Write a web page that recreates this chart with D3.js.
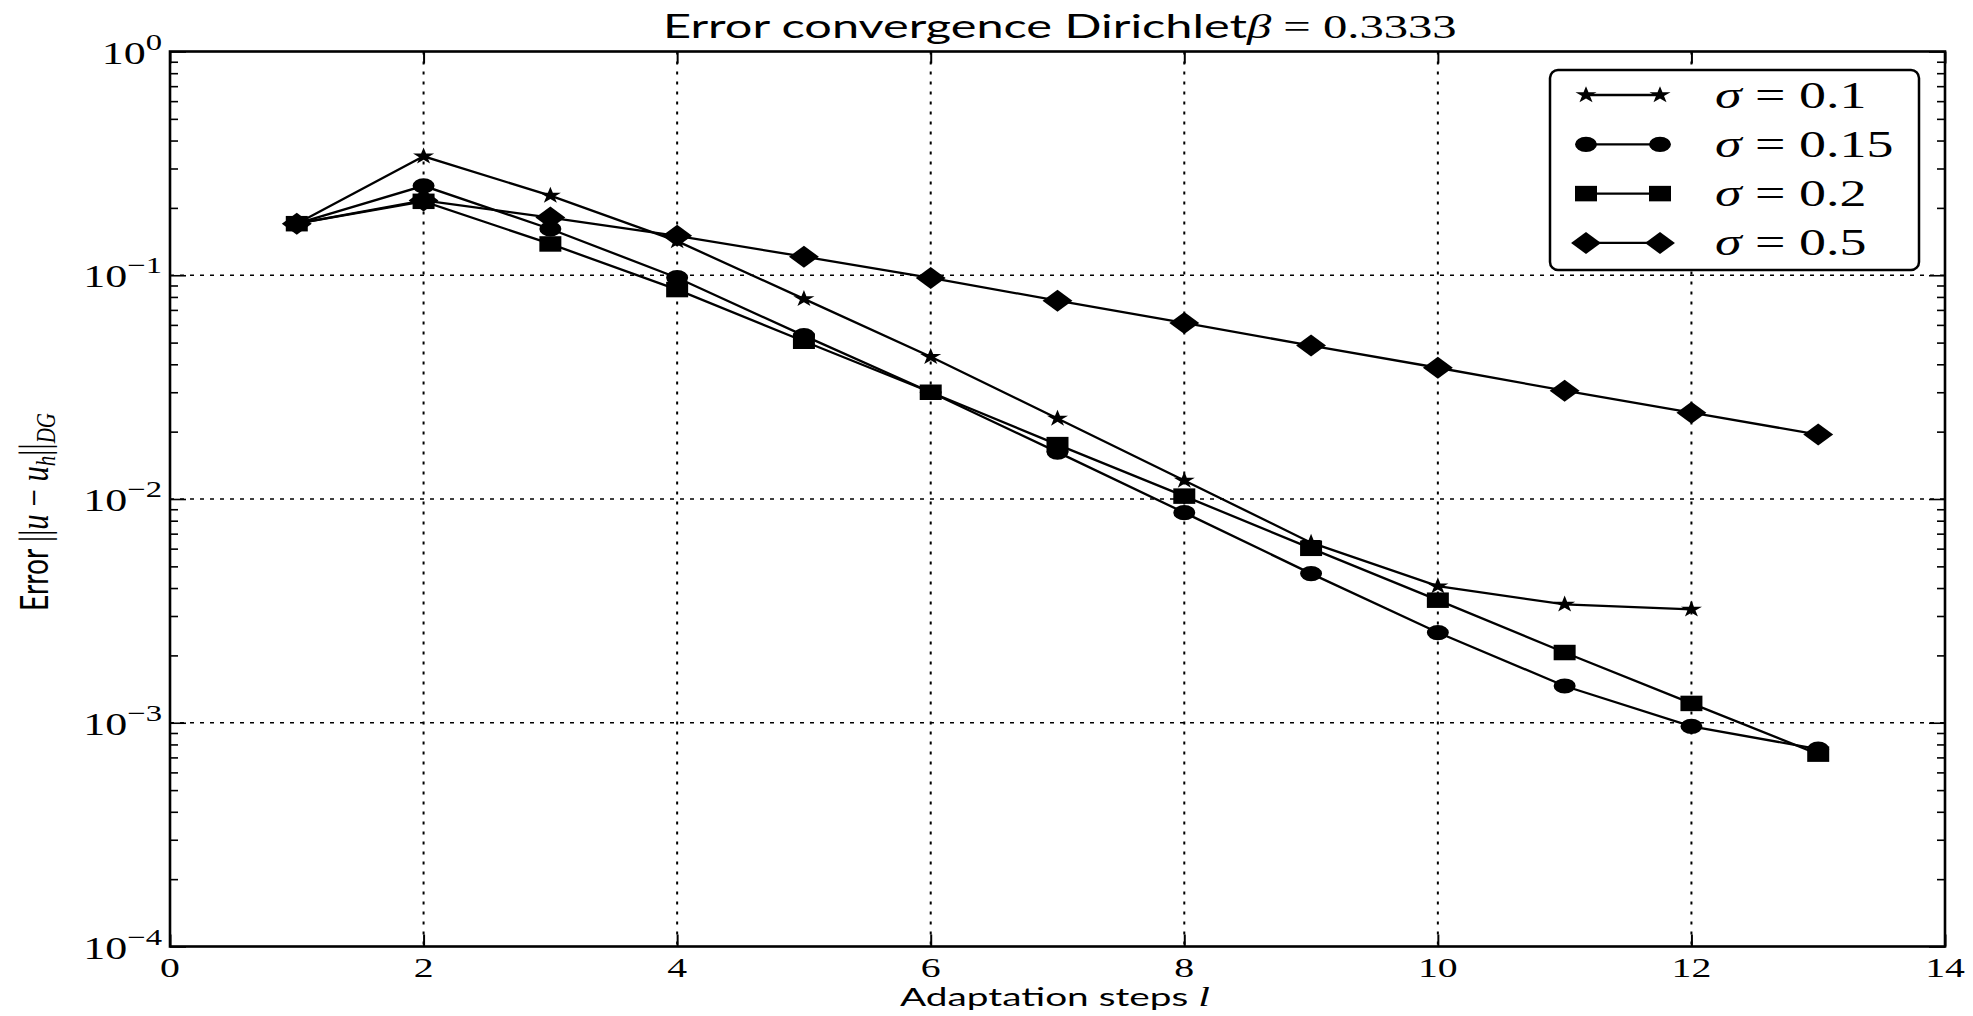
<!DOCTYPE html>
<html><head><meta charset="utf-8">
<script src="https://cdn.jsdelivr.net/npm/d3@7"></script>
<style>body{margin:0;background:#fff}svg{display:block}</style>
</head><body>
<svg id="c" width="1973" height="1016"></svg>
<script>
// ---------------- data ----------------
const steps = [1,2,3,4,5,6,7,8,9,10,11,12,13];
const sigma01  = [0.170,0.340,0.227,0.142,0.0784,0.0432,0.0229,0.0121,0.00638,0.00408,0.00338,0.00321];
const sigma015 = [0.170,0.251,0.161,0.0975,0.0537,0.0300,0.0162,0.00869,0.00464,0.00253,0.00146,0.000964,0.000762];
const sigma02  = [0.170,0.214,0.138,0.0863,0.0507,0.0300,0.0175,0.0103,0.00602,0.00353,0.00206,0.00122,0.000724];
const sigma05  = [0.170,0.216,0.181,0.150,0.121,0.0973,0.0770,0.0612,0.0485,0.0386,0.0305,0.0243,0.0194];
const seriesLabels = ["0.1","0.15","0.2","0.5"];
const xTicks = [0,2,4,6,8,10,12,14];
const yExponents = [0,-1,-2,-3,-4];

// ---------------- layout ----------------
const svg = d3.select("#c");
const L = 170, R = 1945, T = 51.5, B = 946.5;
const SX = 1.42; // horizontal stretch of the original figure
const x = d3.scaleLinear().domain([0,14]).range([L,R]);
const y = d3.scaleLog().domain([1e-4,1]).range([B,T]);
const SERIF = "'Liberation Serif','DejaVu Serif',serif";
const SANS = "Lato,'Open Sans','DejaVu Sans',sans-serif";

// grid
const grid = svg.append("g");
grid.selectAll("line.vx").data(xTicks.filter(d=>d>0&&d<14)).join("line")
  .attr("x1",d=>x(d)).attr("x2",d=>x(d)).attr("y1",T).attr("y2",B)
  .attr("stroke","#000").attr("stroke-width",2).attr("stroke-dasharray","3,7");
grid.selectAll("line.hy").data(yExponents.filter(e=>e<0&&e>-4)).join("line")
  .attr("x1",L).attr("x2",R).attr("y1",e=>y(Math.pow(10,e))).attr("y2",e=>y(Math.pow(10,e)))
  .attr("stroke","#000").attr("stroke-width",1.5).attr("stroke-dasharray","4,6");

// axes (ticks only)
const majors = yExponents.map(e=>Math.pow(10,e));
const minors = [];
for (let e=-4;e<0;e++) for (let k=2;k<10;k++) minors.push(k*Math.pow(10,e));
function styleAxis(g, w){ g.select(".domain").remove(); g.selectAll("line").attr("stroke","#000").attr("stroke-width",w); g.selectAll("text").remove(); }
svg.append("g").attr("transform",`translate(0,${B})`).call(d3.axisBottom(x).tickValues(xTicks).tickSize(-12).tickFormat("")).call(styleAxis,2);
svg.append("g").attr("transform",`translate(0,${T})`).call(d3.axisTop(x).tickValues(xTicks).tickSize(-12).tickFormat("")).call(styleAxis,2);
svg.append("g").attr("transform",`translate(${L},0)`).call(d3.axisLeft(y).tickValues(majors).tickSize(-16).tickFormat("")).call(styleAxis,1.6);
svg.append("g").attr("transform",`translate(${L},0)`).call(d3.axisLeft(y).tickValues(minors).tickSize(-8).tickFormat("")).call(styleAxis,1.6);
svg.append("g").attr("transform",`translate(${R},0)`).call(d3.axisRight(y).tickValues(majors).tickSize(-16).tickFormat("")).call(styleAxis,1.6);
svg.append("g").attr("transform",`translate(${R},0)`).call(d3.axisRight(y).tickValues(minors).tickSize(-8).tickFormat("")).call(styleAxis,1.6);

// tick labels
svg.append("g").selectAll("text").data(xTicks).join("text")
  .attr("transform",d=>`translate(${x(d)},977) scale(${SX},1)`)
  .attr("text-anchor","middle").attr("font-family",SERIF).attr("font-size",28).text(d=>d);
const yl = svg.append("g").selectAll("text").data(yExponents).join("text")
  .attr("transform",e=>`translate(162,${y(Math.pow(10,e))+12}) scale(${SX},1)`)
  .attr("text-anchor","end").attr("font-family",SERIF).attr("font-size",31);
yl.append("tspan").text("10");
yl.append("tspan").attr("font-size",23).attr("dy",-14).text(e=>e===0?"0":"\u2212"+(-e));

// series
const series = [
  {vals:sigma01, sym:d3.symbolStar, size:88, sx:1.25, rot:0},
  {vals:sigma015, sym:d3.symbolCircle, size:181, sx:1.45, rot:0},
  {vals:sigma02, sym:d3.symbolSquare, size:240, sx:1.42, rot:0},
  {vals:sigma05, sym:d3.symbolSquare, size:242, sx:1.36, rot:45},
];
const line = d3.line().x(d=>x(d[0])).y(d=>y(d[1]));
series.forEach(s=>{
  const pts = s.vals.map((v,i)=>[steps[i],v]);
  svg.append("path").attr("d",line(pts)).attr("fill","none").attr("stroke","#000").attr("stroke-width",2.3);
  svg.append("g").selectAll("path").data(pts).join("path")
    .attr("d",d3.symbol(s.sym,s.size)())
    .attr("transform",d=>`translate(${x(d[0])},${y(d[1])}) scale(${s.sx},1) rotate(${s.rot})`)
    .attr("fill","#000");
});

// frame
svg.append("rect").attr("x",L).attr("y",T).attr("width",R-L).attr("height",B-T)
  .attr("fill","none").attr("stroke","#000").attr("stroke-width",2.6);

// legend
const lg = svg.append("g");
lg.append("rect").attr("x",1550).attr("y",70).attr("width",369).attr("height",200).attr("rx",8)
  .attr("fill","#fff").attr("stroke","#000").attr("stroke-width",2.5);
series.forEach((s,i)=>{
  const cy = 95 + i*49.3;
  lg.append("line").attr("x1",1586).attr("x2",1660).attr("y1",cy).attr("y2",cy).attr("stroke","#000").attr("stroke-width",2.3);
  [1586,1660].forEach(cx=>lg.append("path").attr("d",d3.symbol(s.sym,s.size)())
    .attr("transform",`translate(${cx},${cy}) scale(${s.sx},1) rotate(${s.rot})`).attr("fill","#000"));
  const t = lg.append("text").attr("transform",`translate(1715,${cy+12.5}) scale(${SX},1)`)
    .attr("font-family",SERIF).attr("font-size",38);
  t.append("tspan").attr("font-style","italic").text("\u03C3");
  t.append("tspan").text(" = "+seriesLabels[i]);
});

// helper: fit text horizontally into [x0,x1]
function fitH(t, x0, x1, yb){
  const w = t.node().getBBox().width;
  t.attr("transform",`translate(${x0},${yb}) scale(${(x1-x0)/w},1)`);
}
// title
const title = svg.append("text").attr("font-size",33);
title.append("tspan").attr("font-family",SANS).text("Error convergence Dirichlet");
title.append("tspan").attr("font-family",SERIF).attr("font-style","italic").text("\u03B2");
title.append("tspan").attr("font-family",SERIF).text(" = 0.3333");
fitH(title, 663, 1457, 38);

// x label
const xlab = svg.append("text").attr("font-size",25);
xlab.append("tspan").attr("font-family",SANS).text("Adaptation steps ");
xlab.append("tspan").attr("font-family",SERIF).attr("font-style","italic").attr("font-size",27).text("l");
fitH(xlab, 900, 1210, 1006);

// y label (rotated)
const ylab = svg.append("text");
ylab.append("tspan").attr("font-family",SANS).attr("font-size",23).text("Error ");
ylab.append("tspan").attr("font-family",SERIF).attr("font-size",25).text("||");
ylab.append("tspan").attr("font-family",SERIF).attr("font-style","italic").attr("font-size",25).text("u");
ylab.append("tspan").attr("font-family",SERIF).attr("font-size",25).text(" \u2212 ");
ylab.append("tspan").attr("font-family",SERIF).attr("font-style","italic").attr("font-size",25).text("u");
ylab.append("tspan").attr("font-family",SERIF).attr("font-style","italic").attr("font-size",17).attr("dy",4).text("h");
ylab.append("tspan").attr("font-family",SERIF).attr("font-size",25).attr("dy",-4).text("||");
ylab.append("tspan").attr("font-family",SERIF).attr("font-style","italic").attr("font-size",17).attr("dy",4).text("DG");
{
  const w = ylab.node().getBBox().width;
  const y0 = 611, y1 = 413;
  ylab.attr("transform",`translate(48,${y0}) rotate(-90) scale(${(y0-y1)/w},1.65)`);
}
</script>
</body></html>
